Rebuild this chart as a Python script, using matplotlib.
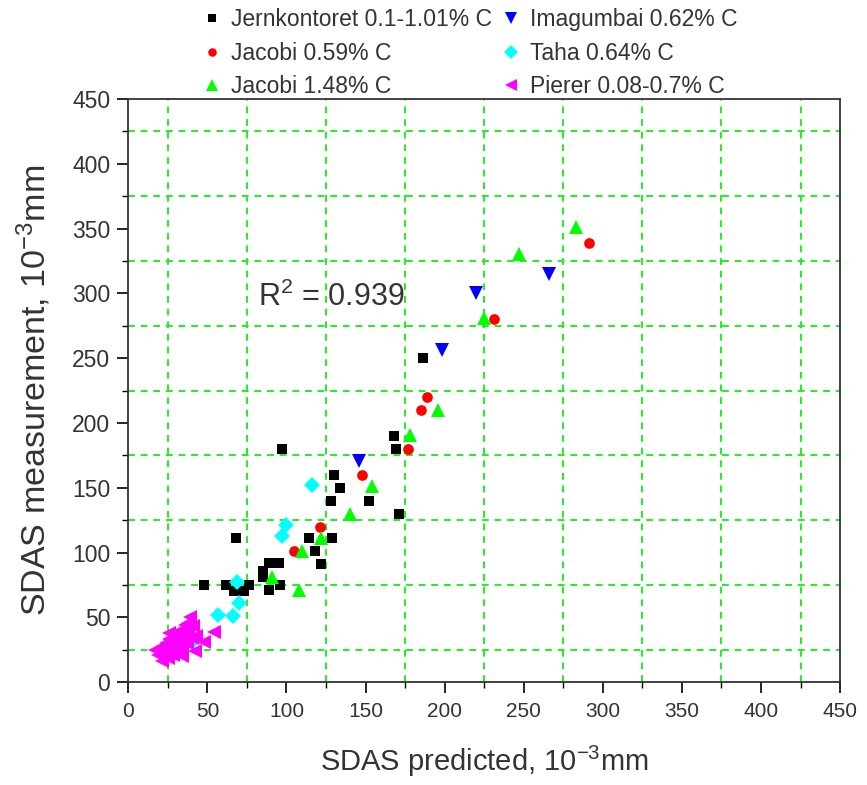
import numpy as np
import matplotlib
matplotlib.use("Agg")
from matplotlib import pyplot as plt
from matplotlib.ticker import MultipleLocator

plt.rcParams['font.family'] = ['Liberation Sans', 'DejaVu Sans']
plt.rcParams['mathtext.default'] = 'regular'

# SDAS predicted vs measured, 10^-3 mm, one pair of lists per data source
jern_x = [48, 62, 67, 73, 76, 68, 85, 85, 89, 95, 96, 89, 97, 114, 129, 118, 122,
          130, 134, 128, 152, 171, 168, 169, 186]
jern_y = [75, 75, 70, 70, 75, 111, 86, 81, 92, 92, 75, 71, 180, 111, 111, 101, 91,
          160, 150, 140, 140, 130, 190, 180, 250]

jac59_x = [105, 121, 148, 177, 185, 189, 231, 291]
jac59_y = [101, 120, 160, 180, 210, 220, 280, 339]

jac148_x = [91, 108, 110, 122, 140, 154, 178, 196, 225, 247, 283]
jac148_y = [81, 71, 101, 111, 130, 151, 191, 210, 281, 330, 351]

imag_x = [146, 198, 220, 266]
imag_y = [171, 256, 300, 315]

taha_x = [40, 57, 66, 70, 69, 97, 100, 116]
taha_y = [31, 52, 51, 61, 77, 113, 121, 152]

pierer_x = [17, 19, 21, 22, 23, 24, 25, 26, 27, 28, 28, 29, 30, 31, 32, 33, 34,
            35, 36, 37, 38, 38, 39, 40, 41, 42, 43, 48, 54, 26, 34]
pierer_y = [25, 21, 16, 28, 23, 30, 19, 33, 26, 35, 21, 30, 38, 24, 33, 40, 28,
            36, 44, 30, 46, 38, 50, 34, 43, 24, 36, 31, 39, 38, 20]

r2_text = 'R$^2$ = 0.939'

fig = plt.figure(figsize=(8.67, 7.85), dpi=100)
ax = fig.add_axes([0.148, 0.131, 0.821, 0.743])

ax.plot(jern_x, jern_y, 's', color='black', ms=7.2, mew=0, label='Jernkontoret 0.1-1.01% C')
ax.plot(jac59_x, jac59_y, 'o', color='red', ms=7.7, mew=0, label='Jacobi 0.59% C')
ax.plot(jac148_x, jac148_y, '^', color='#00ff00', ms=10.5, mew=0, label='Jacobi 1.48% C')
ax.plot(imag_x, imag_y, 'v', color='#0000ff', ms=10.5, mew=0, label='Imagumbai 0.62% C')
ax.plot(taha_x, taha_y, 'D', color='#00ffff', ms=8.5, mew=0, label='Taha 0.64% C')
ax.plot(pierer_x, pierer_y, '<', color='#ff00ff', ms=10.5, mew=0, label='Pierer 0.08-0.7% C')

ax.text(82, 297, r2_text, fontsize=22, color='#333333', va='center')

ax.set_xlim(0, 450)
ax.set_ylim(0, 450)
ax.xaxis.set_major_locator(MultipleLocator(50))
ax.yaxis.set_major_locator(MultipleLocator(50))
ax.xaxis.set_minor_locator(MultipleLocator(25))
ax.yaxis.set_minor_locator(MultipleLocator(25))
ax.tick_params(which='major', direction='out', length=8, width=1.2, labelcolor='#333333')
ax.tick_params(axis='x', which='major', labelsize=15, pad=6)
ax.tick_params(axis='y', which='major', labelsize=16.5, pad=5)
ax.tick_params(which='minor', direction='out', length=4, width=1.0)
ax.grid(True, which='minor', color='#22ee22', linestyle=(0, (3.5, 3)), linewidth=1.4)
ax.grid(False, which='major')
for s in ax.spines.values():
    s.set_linewidth(1.3)
    s.set_color('#333333')

ax.set_xlabel(r'SDAS predicted, 10$^{-3}$mm', fontsize=21, color='#333333', labelpad=17)
ax.set_ylabel(r'SDAS measurement, 10$^{-3}$mm', fontsize=24.5, color='#333333', labelpad=14)

fig.legend(loc='upper left', bbox_to_anchor=(0.208, 1.016), ncol=2, frameon=False,
           fontsize=16.5, handletextpad=0.3, columnspacing=0.35, labelspacing=0.46,
           handlelength=1.0, numpoints=1, markerscale=0.8, labelcolor='#333333')

fig.savefig('out.png', dpi=100)
